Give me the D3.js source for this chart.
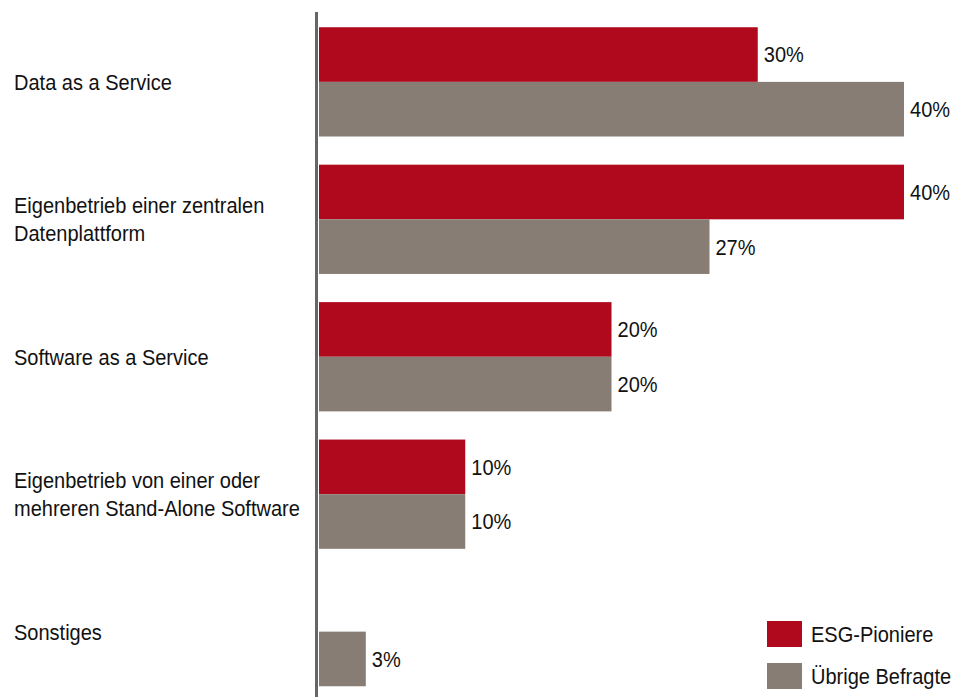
<!DOCTYPE html>
<html><head><meta charset="utf-8">
<script src="https://cdn.jsdelivr.net/npm/d3@7"></script>
<style>
html,body{margin:0;padding:0;background:#fff;}
text{font-family:"Liberation Sans Narrow","Arial Narrow","Liberation Sans",Arial,sans-serif;fill:#111;}
</style></head>
<body><svg id="c" width="954" height="697"></svg>
<script>
const categories = [
  ["Data as a Service"],
  ["Eigenbetrieb einer zentralen", "Datenplattform"],
  ["Software as a Service"],
  ["Eigenbetrieb von einer oder", "mehreren Stand-Alone Software"],
  ["Sonstiges"]
];
const seriesNames = ["ESG-Pioniere", "Übrige Befragte"];
const esgPioniere = [30, 40, 20, 10, null];
const uebrigeBefragte = [40, 26.7, 20, 10, 3.2];
const valueLabels = [["30%", "40%"], ["40%", "27%"], ["20%", "20%"], ["10%", "10%"], [null, "3%"]];
const colors = ["#b0081d", "#877d74"];

const FS = 22.5, SX = 0.89;
const svg = d3.select("#c");
function label(parent, px, py, t) {
  parent.append("g").attr("transform", `translate(${px},${py}) scale(${SX},1)`)
    .append("text").attr("dy", "0.35em").attr("font-size", FS).text(t);
}
const catKeys = categories.map((c, i) => "c" + i);
const x = d3.scaleLinear().domain([0, 40]).range([319, 904]);
const y = d3.scaleBand().domain(catKeys).range([13.5, 700]).paddingInner(0.205).paddingOuter(0.1);
const ySub = d3.scaleBand().domain([0, 1]).range([0, y.bandwidth()]);

const series = [esgPioniere, uebrigeBefragte];
catKeys.forEach((k, i) => {
  const g = svg.append("g").attr("transform", `translate(0,${y(k)})`);
  series.forEach((s, j) => {
    const v = s[i];
    if (v == null) return;
    g.append("rect")
      .attr("x", x(0)).attr("y", ySub(j))
      .attr("width", x(v) - x(0)).attr("height", ySub.bandwidth())
      .attr("fill", colors[j]);
    label(g, x(v) + 6, ySub(j) + ySub.bandwidth() / 2, valueLabels[i][j]);
  });
  const lines = categories[i];
  const lh = 28;
  const cy = y(k) + y.bandwidth() / 2;
  lines.forEach((t, li) => {
    label(svg, 14, cy + (li - (lines.length - 1) / 2) * lh, t);
  });
});

// axis line
svg.append("line").attr("x1", 316.5).attr("x2", 316.5).attr("y1", 12).attr("y2", 697)
  .attr("stroke", "#666").attr("stroke-width", 3);

// legend
const lg = svg.append("g");
seriesNames.forEach((n, j) => {
  const ly = 621 + j * 42;
  lg.append("rect").attr("x", 767).attr("y", ly).attr("width", 35).attr("height", 26).attr("fill", colors[j]);
  label(lg, 811, ly + 13, n);
});
</script></body></html>
